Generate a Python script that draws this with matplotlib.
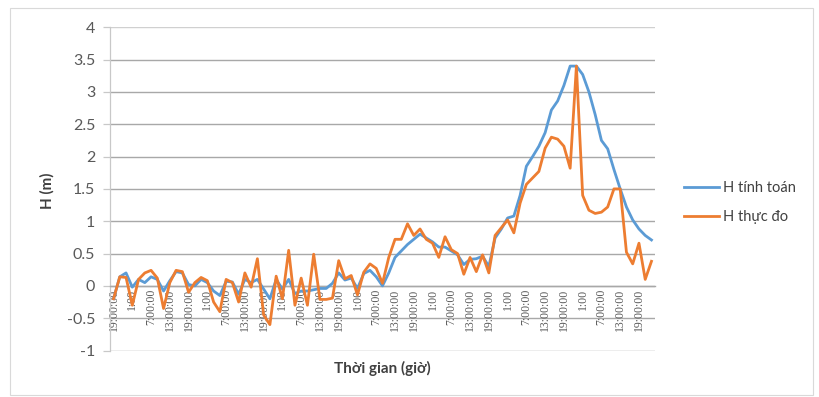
import matplotlib
matplotlib.use("Agg")
import matplotlib.pyplot as plt
from matplotlib.patches import Rectangle
import numpy as np

# 2-hourly series starting at 19:00
tick_cycle = ["19:00:00", "1:00", "7:00:00", "13:00:00"]

h_tinh_toan = [
    -0.2, 0.14, 0.2, -0.02, 0.1, 0.05, 0.14, 0.1, -0.08, 0.08,
    0.22, 0.2, 0.02, 0.0, 0.1, 0.05, -0.08, -0.15, 0.07, 0.06,
    -0.13, 0.1, 0.05, 0.1, -0.05, -0.2, 0.1, -0.05, 0.1, -0.12,
    -0.08, -0.08, -0.06, -0.04, -0.04, 0.04, 0.2, 0.09, 0.12, -0.04,
    0.19, 0.24, 0.14, 0.0, 0.2, 0.44, 0.54, 0.64, 0.72, 0.8,
    0.74, 0.68, 0.6, 0.6, 0.54, 0.48, 0.33, 0.41, 0.42, 0.46,
    0.3, 0.74, 0.88, 1.05, 1.08, 1.4, 1.85, 2.0, 2.16, 2.37,
    2.72, 2.86, 3.1, 3.4, 3.4, 3.27, 3.0, 2.65, 2.25, 2.12,
    1.8, 1.5, 1.22, 1.02, 0.88, 0.78, 0.71,
]

h_thuc_do = [
    -0.2, 0.14, 0.13, -0.3, 0.1, 0.2, 0.24, 0.12, -0.35, 0.05,
    0.24, 0.22, -0.1, 0.05, 0.13, 0.08, -0.25, -0.4, 0.1, 0.05,
    -0.25, 0.2, -0.02, 0.42, -0.45, -0.6, 0.15, -0.2, 0.55, -0.3,
    0.12, -0.3, 0.49, -0.21, -0.21, -0.19, 0.39, 0.11, 0.16, -0.14,
    0.21, 0.34, 0.27, 0.04, 0.44, 0.72, 0.72, 0.96, 0.78, 0.88,
    0.72, 0.66, 0.44, 0.76, 0.56, 0.5, 0.18, 0.44, 0.22, 0.48,
    0.2, 0.78, 0.9, 1.02, 0.82, 1.28, 1.57, 1.67, 1.77, 2.13,
    2.3, 2.27, 2.16, 1.82, 3.4, 1.4, 1.17, 1.12, 1.14, 1.22,
    1.5, 1.5, 0.52, 0.34, 0.66, 0.1, 0.38,
]

y_ticks = [-1, -0.5, 0, 0.5, 1, 1.5, 2, 2.5, 3, 3.5, 4]
y_ticklabels = ["-1", "-0.5", "0", "0.5", "1", "1.5", "2", "2.5", "3", "3.5", "4"]

n = len(h_tinh_toan)
x = np.arange(n)
tick_pos = list(range(0, n, 3))
tick_labels = [tick_cycle[(i // 3) % 4] for i in tick_pos]

W, H = 819, 397
fig = plt.figure(figsize=(W / 100, H / 100), dpi=100)
fig.patch.set_facecolor("white")
fig.patches.append(Rectangle((10 / W, 2 / H), (813 - 10) / W, (389 - 2) / H,
                             transform=fig.transFigure, fill=False,
                             edgecolor="#d9d9d9", linewidth=0.8))

ax = fig.add_axes([110.4 / W, 1 - 350.5 / H, (654.6 - 110.4) / W, (350.5 - 27.3) / H])

grid_col = "#a8a8a8"
for yv in y_ticks:
    ax.axhline(yv, color=grid_col if yv != 4 else "#d0d0d0", linewidth=1.0, zorder=0)

ax.plot(x, h_tinh_toan, color="#5B9BD5", linewidth=2.0, label="H tính toán", zorder=3)
ax.plot(x, h_thuc_do, color="#ED7D31", linewidth=2.0, label="H thực đo", zorder=4)

ax.set_xlim(-0.5, n - 0.5)
ax.set_ylim(-1, 4)

for s in ["top", "right"]:
    ax.spines[s].set_visible(False)
ax.spines["bottom"].set_position(("data", 0))
ax.spines["bottom"].set_color(grid_col)
ax.spines["bottom"].set_linewidth(1.0)
ax.spines["left"].set_color("#c8c8c8")
ax.spines["left"].set_linewidth(0.9)

ax.set_yticks(y_ticks)
ax.set_yticklabels(y_ticklabels, fontsize=11.5, color="#595959", family="Lato")
ax.tick_params(axis="y", length=5, width=0.9, color="#c8c8c8", pad=6)

ax.set_xticks(tick_pos)
ax.set_xticklabels(tick_labels, rotation=90, fontsize=8.5, color="#595959",
                   family="Liberation Serif")
ax.tick_params(axis="x", length=0, pad=2)
for lbl in ax.get_xticklabels():
    lbl.set_verticalalignment("top")

fig.text(47 / W, 1 - 191 / H, "H (m)", rotation=90, ha="center", va="center",
         fontsize=11, fontweight="bold", color="#404040", family="Lato")
fig.text(382 / W, 1 - 368 / H, "Thời gian (giờ)", ha="center", va="center",
         fontsize=11, fontweight="bold", color="#404040", family="Lato")

leg = ax.legend(loc="center left", bbox_to_anchor=(684 / W, 1 - 202.5 / H),
                bbox_transform=fig.transFigure, frameon=False,
                prop={"family": "Lato", "size": 10.5}, handlelength=2.4,
                handletextpad=0.25, labelspacing=1.0, borderpad=0, borderaxespad=0)
for t in leg.get_texts():
    t.set_color("#404040")

fig.savefig("out.png", dpi=100, facecolor="white")
